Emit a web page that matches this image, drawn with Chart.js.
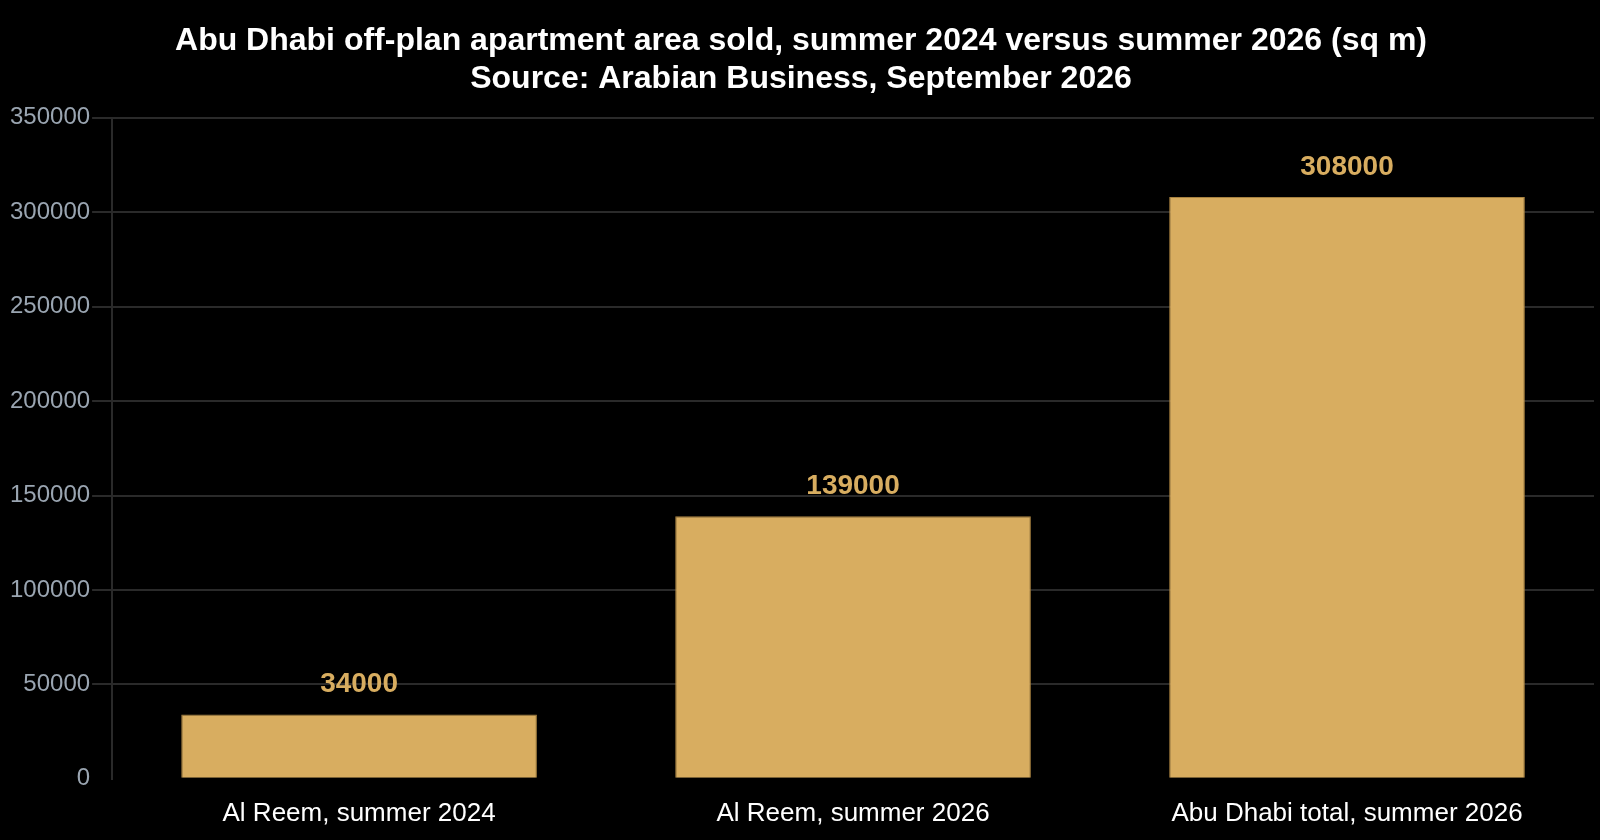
<!DOCTYPE html>
<html>
<head>
<meta charset="utf-8">
<script src="https://cdn.jsdelivr.net/npm/chart.js@4.4.0/dist/chart.umd.min.js"></script>
<style>
  html, body { margin: 0; padding: 0; background: #000; }
  #wrap { width: 1600px; height: 840px; }
</style>
</head>
<body>
<div id="wrap"><canvas id="myChart" width="1600" height="840"></canvas></div>
<script>
const categories = ['Al Reem, summer 2024', 'Al Reem, summer 2026', 'Abu Dhabi total, summer 2026'];
const areaSold = [34000, 139000, 308000];
const yTicks = [0, 50000, 100000, 150000, 200000, 250000, 300000, 350000];

const gold = '#d8ad60';
const font = "'Liberation Sans', Arial, sans-serif";

// value labels above each bar
const barLabels = {
  id: 'barLabels',
  afterDatasetsDraw(chart) {
    const ctx = chart.ctx;
    const meta = chart.getDatasetMeta(0);
    ctx.save();
    ctx.fillStyle = gold;
    ctx.font = 'bold 28px ' + font;
    ctx.textAlign = 'center';
    ctx.textBaseline = 'bottom';
    meta.data.forEach((bar, i) => {
      ctx.fillText(String(areaSold[i]), bar.x, bar.y - 16);
    });
    ctx.restore();
  }
};

const ctx = document.getElementById('myChart').getContext('2d');
const myChart = new Chart(ctx, {
  type: 'bar',
  data: {
    labels: categories,
    datasets: [{
      label: 'Area sold (sq m)',
      data: areaSold,
      backgroundColor: gold,
      borderColor: '#a88240',
      borderWidth: 1
    }]
  },
  options: {
    responsive: false,
    animation: false,
    layout: { padding: { left: 8, right: 6, top: 0, bottom: 0 } },
    plugins: {
      legend: { display: false },
      tooltip: { enabled: false },
      title: {
        display: true,
        text: ['Abu Dhabi off-plan apartment area sold, summer 2024 versus summer 2026 (sq m)',
               'Source: Arabian Business, September 2026'],
        color: '#ffffff',
        font: { family: font, size: 32, weight: 'bold', lineHeight: 1.2 },
        padding: { top: 22, bottom: 19 }
      }
    },
    scales: {
      x: {
        grid: { display: false },
        border: { display: false },
        ticks: { color: '#ffffff', font: { family: font, size: 26 }, padding: 11 }
      },
      y: {
        min: 0,
        max: 350000,
        afterBuildTicks(axis) {
          axis.ticks = yTicks.map(v => ({ value: v }));
        },
        grid: {
          color: c => (c.tick && c.tick.value === 0) ? 'rgba(0,0,0,0)' : '#2a2a2a',
          lineWidth: 2,
          tickLength: 20
        },
        border: { display: true, color: '#2a2a2a', width: 2 },
        ticks: {
          color: '#9aa5b1',
          font: { family: font, size: 24 },
          padding: 2,
          callback: v => String(v)
        }
      }
    }
  },
  plugins: [barLabels]
});
</script>
</body>
</html>
